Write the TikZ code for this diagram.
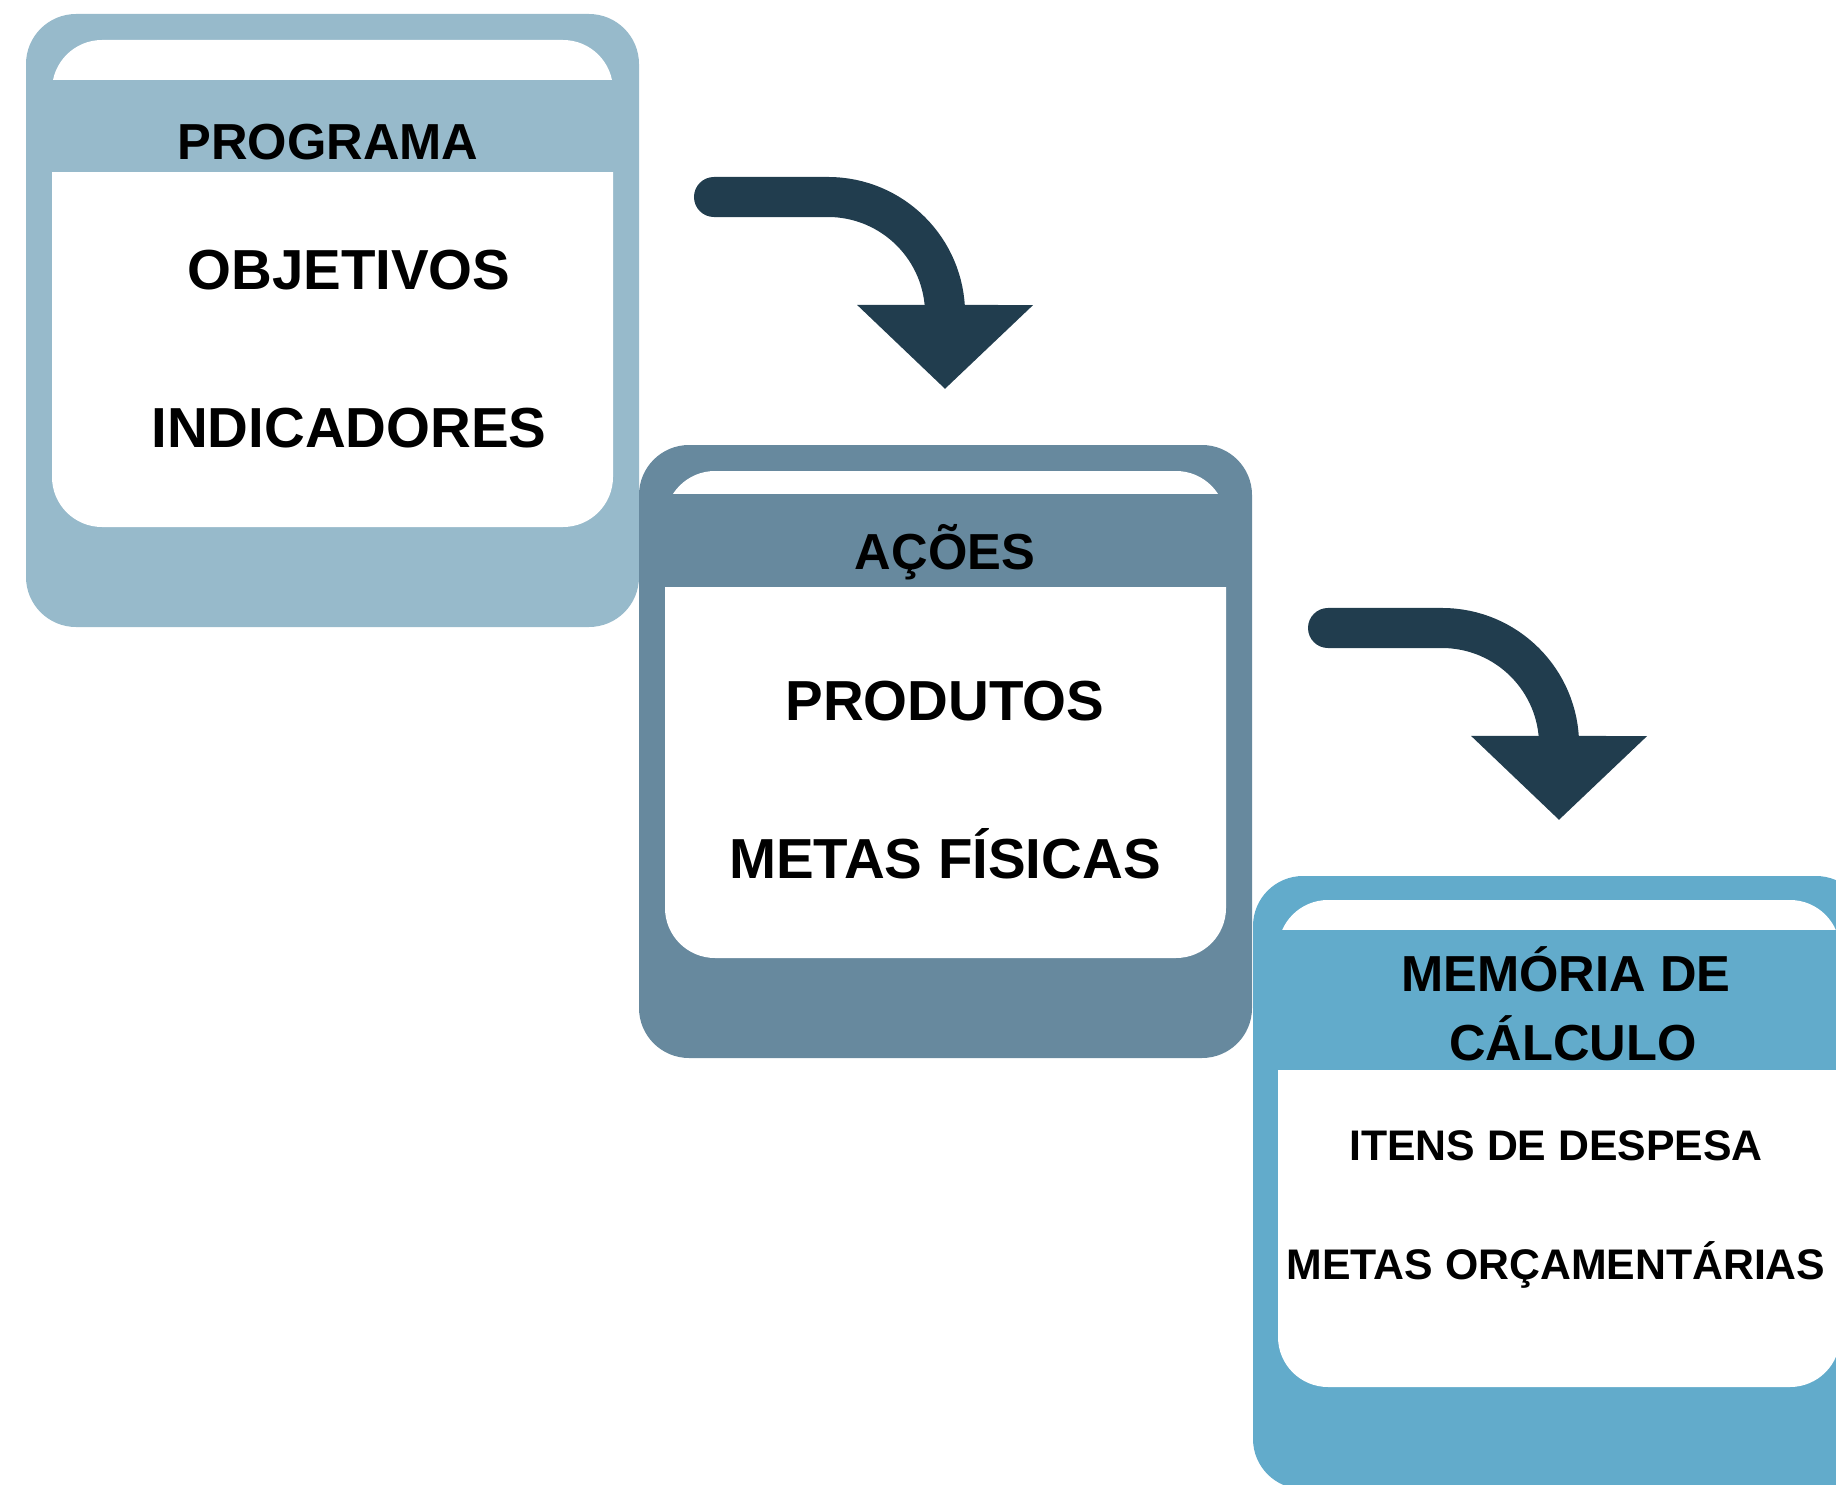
\documentclass[tikz,border=0pt]{standalone}
\usepackage{fontspec}
\setmainfont{Liberation Sans}
\usetikzlibrary{arrows.meta}

\definecolor{programacor}{HTML}{97BACB}
\definecolor{acoescor}{HTML}{67899E}
\definecolor{memoriacor}{HTML}{62ABCB}
\definecolor{setacor}{HTML}{213D4E}

\begin{document}
\begin{tikzpicture}[
			x=0.01cm, y=-0.01cm,
			card/.style={rounded corners=5mm},
			titulo/.style={anchor=base, inner sep=0pt, font=\fontsize{14.4}{17}\selectfont\bfseries},
			item/.style={anchor=base, inner sep=0pt, font=\fontsize{16.05}{19}\selectfont\bfseries},
			itemsmall/.style={anchor=base, inner sep=0pt, font=\fontsize{12.17}{15}\selectfont\bfseries},
			seta/.style={draw=setacor, line width=4mm, line cap=round, -{Triangle[width=17.1mm, length=8.4mm]}},
			]
			\useasboundingbox (0,0) rectangle (1836,1485);
			\clip (0,0) rectangle (1836,1485);
			
			% Kartei 1: Programa
			\fill[card, programacor] (26,14) rectangle (639,627);
			\fill[card, white] (52,40) rectangle (613,527);
			\fill[programacor] (26,80) rectangle (639,172);
			
			% Kartei 2: Ações
			\fill[card, acoescor] (639,445) rectangle (1252,1058);
			\fill[card, white] (665,471) rectangle (1226,958);
			\fill[acoescor] (639,494) rectangle (1252,587);
			
			% Kartei 3: Memória de cálculo
			\fill[card, memoriacor] (1253,876) rectangle (1866,1489);
			\fill[card, white] (1278,900) rectangle (1840,1387);
			\fill[memoriacor] (1253,930) rectangle (1866,1070);
			
			% Texte
			\node[titulo] (Programa) at (328,160) {PROGRAMA};
			\node[item] (Objetivos) at (349,290) {OBJETIVOS};
			\node[item] (Indicadores) at (349,447) {INDICADORES};
			
			\node[titulo] (Acoes) at (945,569) {AÇÕES};
			\node[item] (Produtos) at (945,720) {PRODUTOS};
			\node[item] (MetasFisicas) at (945,878) {METAS FÍSICAS};
			
			\node[titulo] (Memoria) at (1566,991) {MEMÓRIA DE};
			\node[titulo] (Calculo) at (1573,1060) {CÁLCULO};
			\node[itemsmall] (Itens) at (1556,1160) {ITENS DE DESPESA};
			\node[itemsmall] (MetasOrc) at (1556,1279) {METAS ORÇAMENTÁRIAS};
			
			% Pfeile
			\coordinate (Seta1Start) at (714,197);
			\coordinate (Seta1Spitze) at (945,389);
			\coordinate (Seta2Start) at (1328,628);
			\coordinate (Seta2Spitze) at (1559,820);
			
			\draw[seta] (Seta1Start) -- ++(114,0) arc[start angle=90, end angle=0, radius=1.17cm] -- (Seta1Spitze);
			\draw[seta] (Seta2Start) -- ++(114,0) arc[start angle=90, end angle=0, radius=1.17cm] -- (Seta2Spitze);
			
		\end{tikzpicture}
\end{document}
